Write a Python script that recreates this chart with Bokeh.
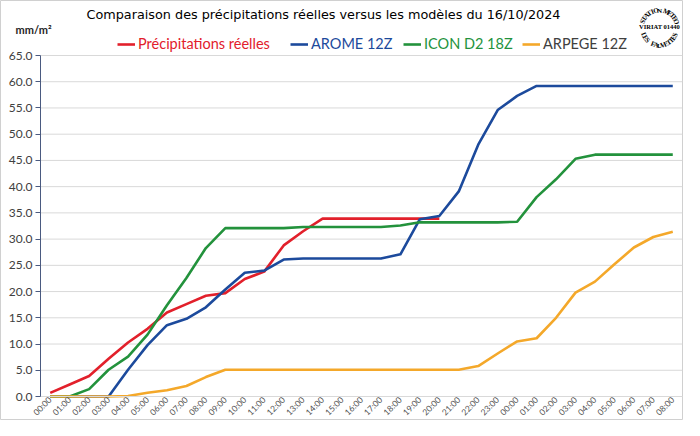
from math import pi, cos, sin, radians
from bokeh.plotting import figure
from bokeh.models import Legend, LegendItem, Label, FixedTicker, NumeralTickFormatter, Range1d
from bokeh.embed import file_html
from bokeh.resources import INLINE

# ---- data ----
hour_labels = ["00:00", "01:00", "02:00", "03:00", "04:00", "05:00", "06:00", "07:00", "08:00",
               "09:00", "10:00", "11:00", "12:00", "13:00", "14:00", "15:00", "16:00", "17:00",
               "18:00", "19:00", "20:00", "21:00", "22:00", "23:00", "00:00", "01:00", "02:00",
               "03:00", "04:00", "05:00", "06:00", "07:00", "08:00"]
hours = list(range(len(hour_labels)))

reelles = [0.7, 2.3, 3.9, 7.2, 10.3, 12.9, 16.0, 17.6, 19.2, 19.7, 22.4, 23.8, 28.8, 31.5,
           33.9, 33.9, 33.9, 33.9, 33.9, 33.9, 33.9]
arome = [0, 0, 0, 0, 5.1, 9.8, 13.6, 14.8, 17.0, 20.4, 23.6, 24.0, 26.1, 26.3, 26.3, 26.3,
         26.3, 26.3, 27.1, 33.8, 34.4, 39.1, 48.0, 54.6, 57.3, 59.2, 59.2, 59.2, 59.2, 59.2,
         59.2, 59.2, 59.2]
icon = [0, 0, 1.4, 5.1, 7.6, 11.8, 17.4, 22.6, 28.3, 32.1, 32.1, 32.1, 32.1, 32.3, 32.3, 32.3,
        32.3, 32.3, 32.6, 33.2, 33.2, 33.2, 33.2, 33.2, 33.3, 38.0, 41.4, 45.3, 46.1, 46.1,
        46.1, 46.1, 46.1]
arpege = [0, 0, 0, 0, 0.1, 0.7, 1.2, 2.0, 3.7, 5.1, 5.1, 5.1, 5.1, 5.1, 5.1, 5.1, 5.1, 5.1,
          5.1, 5.1, 5.1, 5.1, 5.8, 8.2, 10.5, 11.1, 15.0, 19.8, 21.9, 25.2, 28.4, 30.4, 31.4]
y_ticks = list(range(0, 66, 5))
y_max = 65

series_names = ["Précipitations réelles", "AROME 12Z", "ICON D2 18Z", "ARPEGE 12Z"]
series_colors = ["#e2202b", "#1c4a9c", "#23923c", "#f4a82a"]
label_colors = ["#e2202b", "#1c4a9c", "#23923c", "#404040"]

title_text = "Comparaison des précipitations  réelles versus les modèles du 16/10/2024"

# ---- layout (pixels); the frame covers the whole figure, axes are placed inside it ----
W, H = 684, 420
AXIS_X_PX = 40          # where the value axis sits
RIGHT = 2
AXIS_TOP_PX = 55        # where the 65.0 gridline sits
AXIS_BOTTOM_PX = 396    # where the 0.0 line sits
frame_w = W - RIGHT
frame_h = H
x_lo, x_hi = -0.5, len(hours) - 0.5
step = (frame_w - AXIS_X_PX) / (x_hi - x_lo)
x_start = x_lo - AXIS_X_PX / step
ppu = (AXIS_BOTTOM_PX - AXIS_TOP_PX) / y_max
y_start = -(H - AXIS_BOTTOM_PX) / ppu
y_top = y_max + AXIS_TOP_PX / ppu

p = figure(width=W, height=H, output_backend="svg", toolbar_location=None,
           x_range=Range1d(x_start, x_hi), y_range=Range1d(y_start, y_top),
           min_border_left=0, min_border_right=RIGHT, min_border_top=0,
           min_border_bottom=0)
p.outline_line_color = "#d0d0d0"
p.outline_line_width = 1
p.xgrid.visible = False
p.ygrid.visible = False

# horizontal gridlines spanning the category area only
p.segment(x0=[x_lo] * len(y_ticks), x1=[x_hi] * len(y_ticks), y0=y_ticks, y1=y_ticks,
          line_color="#d9d9d9", line_width=1)

xa = p.xaxis[0]
xa.fixed_location = 0
xa.ticker = FixedTicker(ticks=hours)
xa.bounds = (x_lo, x_hi)
xa.major_label_overrides = {i: lab for i, lab in enumerate(hour_labels)}
xa.major_label_orientation = pi / 4
xa.major_tick_line_color = None
xa.major_tick_out = 0
xa.major_tick_in = 0
xa.minor_tick_line_color = None
xa.minor_tick_out = 0
xa.axis_line_color = "#d9d9d9"
xa.major_label_text_font = "Lato"
xa.major_label_text_font_size = "8.5px"
xa.major_label_text_color = "#505050"
xa.major_label_standoff = 2

ya = p.yaxis[0]
ya.fixed_location = x_lo
ya.ticker = FixedTicker(ticks=y_ticks)
ya.bounds = (0, y_max)
ya.formatter = NumeralTickFormatter(format="0.0")
ya.axis_line_color = "#4a5a80"
ya.major_tick_line_color = "#4a5a80"
ya.major_tick_out = 5
ya.major_tick_in = 0
ya.minor_tick_line_color = None
ya.major_label_text_font = "Lato"
ya.major_label_text_font_size = "12px"
ya.major_label_text_color = "#404040"
ya.major_label_standoff = 3

data = [(hours[:len(reelles)], reelles), (hours, arome), (hours, icon), (hours, arpege)]
renderers = []
for (xs, ys), c in zip(data, series_colors):
    renderers.append(p.line(xs, ys, line_width=2.6, line_color=c, line_join="round"))

# screen offsets are relative to the frame's bottom-left corner (= figure bottom-left)
def up(px_from_top):
    return frame_h - px_from_top

legend_x = [117, 290, 403, 522]
for r, name, lc, lx in zip(renderers, series_names, label_colors, legend_x):
    leg = Legend(items=[LegendItem(label=name, renderers=[r])], location=(lx, up(52)),
                 orientation="horizontal", label_text_color=lc, label_text_font="Lato",
                 label_text_font_size="14.5px", glyph_width=18, glyph_height=14,
                 label_height=14, label_standoff=3, padding=0, margin=0, spacing=0,
                 border_line_color=None, background_fill_alpha=0)
    p.add_layout(leg)

p.add_layout(Label(x=325, y=up(14), x_units="screen", y_units="screen", text=title_text,
                   text_align="center", text_baseline="middle", text_font="DejaVu Sans",
                   text_font_size="12.8px", text_color="black"))
p.add_layout(Label(x=15, y=up(29), x_units="screen", y_units="screen", text="mm/m²",
                   text_align="left", text_baseline="middle", text_font="Lato",
                   text_font_style="bold", text_font_size="11px", text_color="#262626"))

# stamp (decoration)
cx, cy = 659, up(28)
top_txt = "STATION METEO"
bot_txt = "LES FAUVETTES"
for k, ch in enumerate(top_txt):
    a = radians(158 - k * (136 / (len(top_txt) - 1)))
    p.add_layout(Label(x=cx + 18 * cos(a), y=cy + 18 * sin(a), x_units="screen", y_units="screen",
                       text=ch, angle=a - pi / 2, text_align="center", text_baseline="middle",
                       text_font="Liberation Serif", text_font_style="bold",
                       text_font_size="7px", text_color="black"))
for k, ch in enumerate(bot_txt):
    a = radians(202 + k * (136 / (len(bot_txt) - 1)))
    p.add_layout(Label(x=cx + 17 * cos(a), y=cy + 17 * sin(a), x_units="screen", y_units="screen",
                       text=ch, angle=a + pi / 2, text_align="center", text_baseline="middle",
                       text_font="Liberation Serif", text_font_style="bold",
                       text_font_size="7px", text_color="black"))
p.add_layout(Label(x=cx, y=cy + 2, x_units="screen", y_units="screen", text="VIRIAT 01440",
                   text_align="center", text_baseline="middle", text_font="Liberation Serif",
                   text_font_style="bold", text_font_size="6.5px", text_color="black"))

open("out.html", "w").write(file_html(p, INLINE))
